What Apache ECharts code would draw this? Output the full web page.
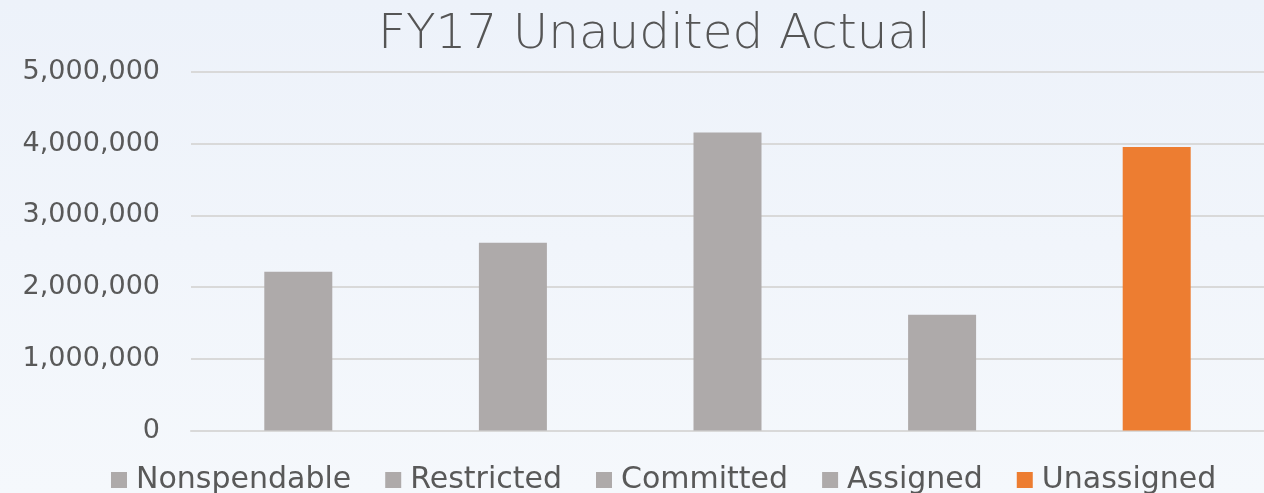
<!DOCTYPE html>
<html>
<head>
<meta charset="utf-8">
<script src="https://cdn.jsdelivr.net/npm/echarts@6/dist/echarts.min.js"></script>
<style>
  html, body { margin: 0; padding: 0; }
  #main { width: 1264px; height: 493px; }
</style>
</head>
<body>
<div id="main"></div>
<script>
var categories = ['Nonspendable', 'Restricted', 'Committed', 'Assigned', 'Unassigned'];
var values = [2215000, 2620000, 4155000, 1615000, 3955000];
var barColors = ['#AEAAAA', '#AEAAAA', '#AEAAAA', '#AEAAAA', '#ED7D31'];
var yTicks = [0, 1000000, 2000000, 3000000, 4000000, 5000000];

var myChart = echarts.init(document.getElementById('main'));

// one series per category so the legend lists every bar
var series = categories.map(function (name, i) {
    return {
        name: name,
        type: 'bar',
        stack: 'all',
        barWidth: 68,
        itemStyle: { color: barColors[i] },
        data: categories.map(function (c, j) { return j === i ? values[i] : '-'; })
    };
});

myChart.setOption({
    backgroundColor: new echarts.graphic.LinearGradient(0, 0, 0, 1, [
        { offset: 0, color: '#EDF2FA' },
        { offset: 1, color: '#F5F8FC' }
    ]),
    textStyle: { fontFamily: 'DejaVu Sans' },
    title: {
        text: 'FY17 Unaudited Actual',
        left: 373,
        top: 6,
        textStyle: { fontSize: 48.5, fontWeight: 200, color: '#555555', fontFamily: 'DejaVu Sans' }
    },
    legend: {
        data: categories,
        left: 106,
        top: 460,
        itemWidth: 16,
        itemHeight: 16,
        itemGap: 34,
        icon: 'rect',
        textStyle: { fontSize: 30, color: '#595959', padding: [0, 0, 0, 4] }
    },
    grid: { left: 191, top: 72, width: 1077, bottom: 62.5 },
    xAxis: {
        type: 'category',
        data: categories,
        axisLine: { lineStyle: { color: '#D9D9D9', width: 2 } },
        axisTick: { show: false },
        axisLabel: { show: false }
    },
    yAxis: {
        type: 'value',
        min: yTicks[0],
        max: yTicks[yTicks.length - 1],
        interval: 1000000,
        axisLine: { show: false },
        axisTick: { show: false },
        axisLabel: {
            fontSize: 27,
            color: '#595959',
            margin: 31,
            formatter: function (v) { return v.toLocaleString('en-US'); }
        },
        splitLine: { lineStyle: { color: '#D9D9D9', width: 2 } }
    },
    series: series
});
</script>
</body>
</html>
